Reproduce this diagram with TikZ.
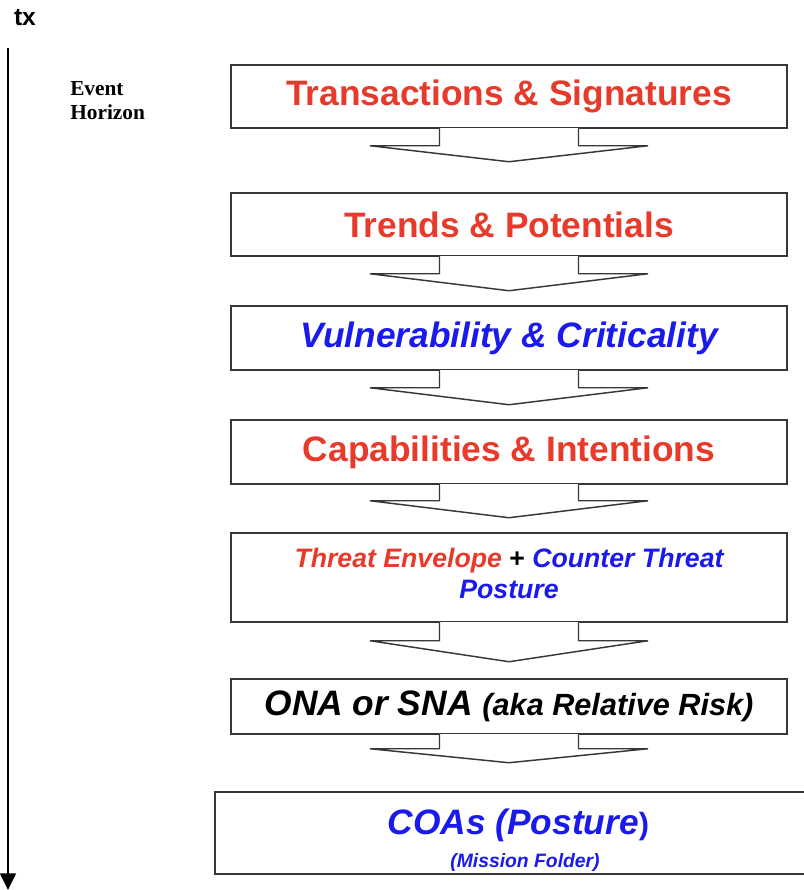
\documentclass[tikz,border=0pt]{standalone}
\usepackage{fontspec}
\setmainfont{Liberation Serif}
\setsansfont{Liberation Sans}
\usetikzlibrary{arrows.meta, positioning, calc}
\definecolor{redC}  {RGB}{232,  58,  42}
\definecolor{blueC} {RGB}{ 26,  26, 236}
\definecolor{edgeC} {RGB}{ 55,  55,  55}
\tikzset{
  stage/.style  = {rectangle, draw=edgeC, fill=white, line width=1.1pt, align=center,
                   font=\sffamily\bfseries\fontsize{26.5}{30}\selectfont,
                   minimum width=417pt, inner sep=0pt},
  chev/.style   = {draw=edgeC, fill=white, line width=1.1pt},
  timeax/.style = {-{Triangle[length=12.5pt, width=12pt]}, line width=1.1pt},
  axlbl/.style  = {font=\sffamily\bfseries\fontsize{18.5}{20}\selectfont},
  note/.style   = {font=\bfseries\fontsize{16}{18}\selectfont, align=left, inner sep=0pt},
}
\newcommand{\rd}[1]{\textcolor{redC}{#1}}
\newcommand{\bl}[1]{\textcolor{blueC}{#1}}

\begin{document}
\begin{tikzpicture}[x=0.75pt, y=-0.75pt]
\clip (0,0) rectangle (804,890);

% ---- Time axis --------------------------------------------------------------
\node[axlbl] (tx) at (25,18) {tx};
\coordinate (tTop) at (8,48);
\coordinate (tEnd) at (8,890);
\draw[timeax] (tTop) -- (tEnd);
\node[note, anchor=north west] (EH) at (70,81) {Event\\Horizon};

% ---- Stages -----------------------------------------------------------------
\node[stage, minimum height=47.25pt] (TS) at (509,96.5)
  {\rd{Transactions \& Signatures}};
\node[stage, minimum height=47.25pt] (TP) at (509,224.5)
  {\rd{Trends \& Potentials}};
\node[stage, minimum height=48pt]    (VC) at (509,338)
  {\bl{\itshape Vulnerability \& Criticality}};
\node[stage, minimum height=48pt]    (CI) at (509,452)
  {\rd{Capabilities \& Intentions}};
\node[stage, minimum height=66.75pt,
      font=\sffamily\bfseries\itshape\fontsize{20}{23}\selectfont] (TE) at (509,577.5)
  {\rd{Threat Envelope} {\upshape +} \bl{Counter Threat}\\\bl{Posture}\\[-17pt]};
\node[stage, minimum height=41.25pt, font=\sffamily\bfseries\itshape\fontsize{26.5}{30}\selectfont] (ON) at (509,706.5)
  {ONA or SNA {\fontsize{23}{26}\selectfont(aka Relative Risk)}};
\node[stage, minimum width=465pt, minimum height=61.5pt] (CO) at (525,833)
  {\rule{0pt}{30pt}\bl{\itshape COAs (Posture}\bl{\fontsize{23}{24}\selectfont)}\hspace*{10pt}\\[-5.5pt]
   \bl{\itshape\fontsize{14.5}{16}\selectfont(Mission Folder)}};

% ---- Block arrows between stages --------------------------------------------
\foreach \b/\s/\h in {TS/17/16, TP/17/17, VC/17/17, CI/16/17, TE/18/21, ON/14/14} {
  \fill[white] ($(\b.south)+(-68.6,-1.2)$) rectangle ($(\b.south)+(68.6,1.2)$);
  \draw[chev] ($(\b.south)+(-69.5,0)$) -- ++(0,\s) -- ++(-69.5,0) -- ++(139,\h)
              -- ++(139,-\h) -- ++(-69.5,0) -- ++(0,-\s);
}

\end{tikzpicture}
\end{document}
